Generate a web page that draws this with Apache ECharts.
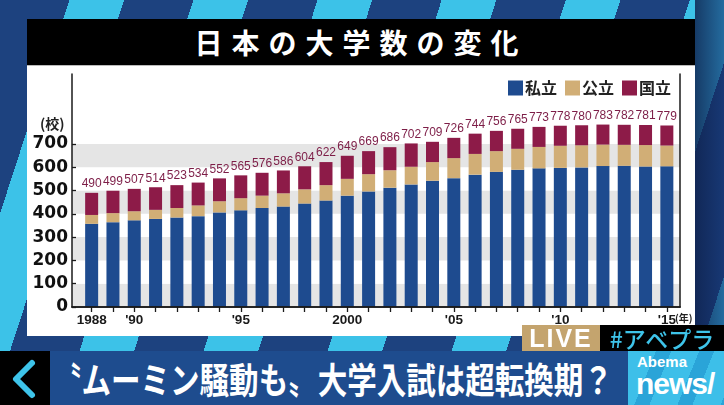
<!DOCTYPE html>
<html>
<head>
<meta charset="utf-8">
<script src="https://cdn.jsdelivr.net/npm/echarts@6/dist/echarts.min.js"></script>
<style>
html,body{margin:0;padding:0;width:724px;height:405px;overflow:hidden;}
body{position:relative;font-family:"Noto Sans CJK JP","Noto Sans",sans-serif;
 background:repeating-linear-gradient(108deg,#1d427f 0px,#1d427f 66px,#3cc2e8 66px,#3cc2e8 118px);}
#shade{position:absolute;left:695px;top:0;width:29px;height:352px;background:linear-gradient(90deg,rgba(15,35,80,0.85),rgba(20,50,110,0.6));}
#titlebar{position:absolute;left:27px;top:19px;width:668px;height:46px;background:#000;color:#fff;
 font-size:28px;font-weight:700;letter-spacing:9px;text-align:center;line-height:46px;}
#panel{position:absolute;left:27px;top:65px;width:668px;height:271px;background:#fff;border-top:1px solid #bbb;box-sizing:border-box;}
#chart{position:absolute;left:0;top:0;width:724px;height:405px;z-index:2;}
#live{position:absolute;left:522px;top:325px;width:78px;height:26px;background:#c4a46e;color:#fff;z-index:3;
 font-family:"Liberation Sans",Arial,sans-serif;font-weight:700;font-size:25px;line-height:26px;text-align:center;letter-spacing:2px;}
#tag{position:absolute;left:600px;top:325px;width:124px;height:26px;background:#000;color:#3ec4ea;z-index:3;
 font-size:23px;line-height:26px;text-align:center;font-weight:500;}
#banner{position:absolute;left:0;top:351px;width:724px;height:54px;background:#1e4c8e;z-index:3;overflow:hidden;}
#back{position:absolute;left:0;top:0;width:50px;height:54px;background:#000;}
#headline{position:absolute;left:52px;top:0;height:54px;line-height:54px;color:#fff;font-size:36px;font-weight:700;
 white-space:nowrap;transform-origin:0 50%;transform:scaleX(0.82);}
#abema{position:absolute;left:628px;top:0;width:96px;height:54px;
 background:repeating-linear-gradient(112deg,#3dbfe9 0px,#3dbfe9 26px,#2aa4d8 26px,#2aa4d8 40px);}
#abema .a{position:absolute;left:9px;top:2px;color:#fff;font-family:"Liberation Sans",sans-serif;font-size:15px;font-weight:700;}
#abema .n{position:absolute;left:8px;top:16px;color:#fff;font-family:"Liberation Sans",sans-serif;font-size:30px;font-weight:700;letter-spacing:-1px;}
</style>
</head>
<body>
<div id="shade"></div>
<div id="titlebar">日本の大学数の変化</div>
<div id="panel"></div>
<div id="chart"></div>
<div id="live">LIVE</div>
<div id="tag">#アベプラ</div>
<div id="banner">
 <div id="back"><svg width="50" height="54"><polyline points="32,12 16,28 32,44" fill="none" stroke="#3ec4ea" stroke-width="6" stroke-linecap="round" stroke-linejoin="round"/></svg></div>
 <div id="headline">〝ムーミン騒動も〟大学入試は超転換期？</div>
 <div id="abema"><span class="a">Abema</span><span class="n">news/</span></div>
</div>
<script>
const categories = ['1988','1989','1990','1991','1992','1993','1994','1995','1996','1997','1998','1999','2000','2001','2002','2003','2004','2005','2006','2007','2008','2009','2010','2011','2012','2013','2014','2015'];
const xTickLabels = ['1988','',"'90",'','','','',"'95",'','','','','2000','','','','',"'05",'','','','',"'10",'','','','',"'15"];
const privateU  = [357,364,372,378,384,390,406,415,425,431,444,457,478,496,512,526,542,553,568,580,589,595,597,599,605,606,603,604];
const publicU   = [38,39,39,39,41,46,48,52,53,57,61,66,72,74,75,76,80,86,89,89,90,92,95,95,92,90,92,89];
const nationalU = [95,96,96,97,98,98,98,98,98,98,99,99,99,99,99,100,87,87,87,87,86,86,86,86,86,86,86,86];
const totalLabels = [490,499,507,514,523,534,552,565,576,586,604,622,649,669,686,702,709,726,744,756,765,773,778,780,783,782,781,779];
const yTickValues = [0,100,200,300,400,500,600,700];
const yTickLabels = ['0','100','200','300','400','500','600','700'];
const seriesNames = ['私立','公立','国立'];

const chart = echarts.init(document.getElementById('chart'), null, {renderer:'canvas'});
const bandColors = ['#e5e5e5','#ffffff','#e5e5e5','#ffffff','#e5e5e5','#ffffff','#e5e5e5','#ffffff','#ffffff','#ffffff'];
const frameLine = {show:true, lineStyle:{color:'#1a1a1a', width:1.5}};
const option = {
  animation:false,
  backgroundColor:'transparent',
  textStyle:{fontFamily:'"Liberation Sans", Arial, sans-serif'},
  legend:{
    data:seriesNames, right:53, top:80, itemWidth:15, itemHeight:15, itemGap:8, padding:0,
    icon:'rect',
    textStyle:{fontFamily:'"Noto Sans CJK JP", sans-serif', fontSize:16, fontWeight:'bold', color:'#222', padding:[0,0,0,-3]}
  },
  graphic:[
    {type:'text', left:40, top:117, style:{text:'(校)', font:'bold 14px "Noto Sans CJK JP", sans-serif', fill:'#222'}},
    {type:'text', left:675, top:313, style:{text:'(年)', font:'bold 10px "Noto Sans CJK JP", sans-serif', fill:'#222'}}
  ],
  grid:[
    {left:81, right:46.5, top:74, bottom:98},
    {left:72, right:44, top:74, bottom:98}
  ],
  xAxis:[
    {type:'category', gridIndex:0, data:categories,
     axisLine:{show:false},
     axisTick:{show:true, alignWithLabel:true, interval:0, length:5, lineStyle:{color:'#1a1a1a', width:1.3}},
     axisLabel:{interval:0, margin:6, fontSize:13.5, fontWeight:'bold', color:'#1a1a1a',
       formatter:(v,i)=>xTickLabels[i]}},
    {type:'value', gridIndex:1, position:'bottom', min:0, max:1, z:3,
     axisLine:frameLine, axisTick:{show:false}, axisLabel:{show:false}, splitLine:{show:false}},
    {type:'value', gridIndex:1, position:'top', min:0, max:1, z:3,
     axisLine:frameLine, axisTick:{show:false}, axisLabel:{show:false}, splitLine:{show:false}}
  ],
  yAxis:[
    {type:'value', gridIndex:0, min:0, max:1000, show:false},
    {type:'value', gridIndex:1, min:0, max:1000, interval:100, z:0,
     axisLine:{show:false}, axisTick:{show:false}, axisLabel:{show:false}, splitLine:{show:false},
     splitArea:{show:true, areaStyle:{color:bandColors}}},
    {type:'value', gridIndex:1, position:'left', min:0, max:1000, interval:100, z:3,
     axisLine:frameLine,
     axisTick:{show:true, inside:true, length:4, customValues:yTickValues, lineStyle:{color:'#1a1a1a', width:1.3}},
     axisLabel:{customValues:yTickValues, margin:4, fontFamily:'"DejaVu Sans", sans-serif', fontSize:17, fontWeight:'bold', color:'#111',
       formatter:(v)=>{const k=yTickValues.indexOf(v); return k>=0?yTickLabels[k]:'';}},
     splitLine:{show:false}},
    {type:'value', gridIndex:1, position:'right', min:0, max:1000, z:3,
     axisLine:frameLine, axisTick:{show:false}, axisLabel:{show:false}, splitLine:{show:false}}
  ],
  series:[
    {name:seriesNames[0], type:'bar', stack:'u', xAxisIndex:0, yAxisIndex:0, data:privateU, barWidth:13,
     itemStyle:{color:'#1e4b8f'}},
    {name:seriesNames[1], type:'bar', stack:'u', xAxisIndex:0, yAxisIndex:0, data:publicU, barWidth:13,
     itemStyle:{color:'#d1ae76'}},
    {name:seriesNames[2], type:'bar', stack:'u', xAxisIndex:0, yAxisIndex:0, data:nationalU, barWidth:13,
     itemStyle:{color:'#8d1b48'},
     label:{show:true, position:'top', distance:3,
       formatter:(p)=>String(totalLabels[p.dataIndex]),
       fontFamily:'"Liberation Sans", Arial, sans-serif', fontSize:12, color:'#7d1d47'}}
  ]
};
chart.setOption(option);
</script>
</body>
</html>
